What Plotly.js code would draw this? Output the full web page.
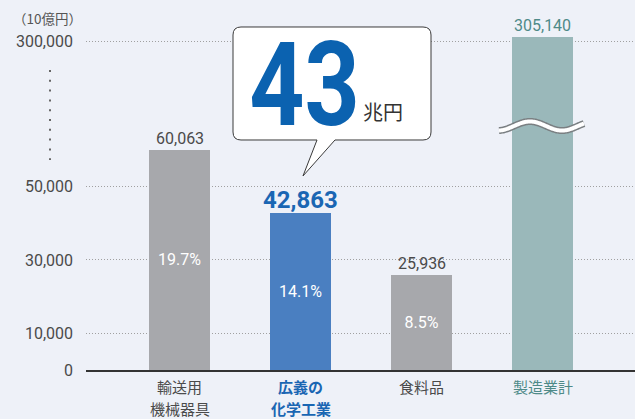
<!DOCTYPE html>
<html><head><meta charset="utf-8">
<script src="https://cdn.plot.ly/plotly-3.0.1.min.js"></script>
<style>html,body{margin:0;padding:0;background:#eef1f8;}#chart{width:635px;height:419px;}</style>
</head><body><div id="chart"></div>
<script>
// ---- data ----
const categories = ['輸送用機械器具', '広義の化学工業', '食料品', '製造業計'];
const labelLine1 = ['輸送用', '広義の', '食料品', '製造業計'];
const labelLine2 = ['機械器具', '化学工業', '', ''];
const values = [60063, 42863, 25936, 305140];
const valueLabels = ['60,063', '42,863', '25,936', '305,140'];
const shares = ['19.7%', '14.1%', '8.5%', ''];
const yTickValues = [0, 10000, 30000, 50000, 300000];
const yTickLabels = ['0', '10,000', '30,000', '50,000', '300,000'];
const unitLabel = '（10億円）';
const calloutNumber = '43';
const calloutUnit = '兆円';

// ---- broken axis mapping ----
function brk(v) { return v <= 100000 ? v : 89530 + (v - 300000) * 0.265; }

const barColors = ['#a7a8ac', '#4a7fc1', '#a7a8ac', '#9ab8ba'];
const labelColors = ['#4a4a4a', '#1a66b3', '#4a4a4a', '#4e8a88'];
const catColors = ['#4a4a4a', '#1a66b3', '#4a4a4a', '#4e8a88'];

// plot area geometry (pixels) for decorations
const L = 86, T = 10, W = 549, H = 360;
const px = x => (x - L) / W;
const py = y => (T + H - y) / H;

function wavePath() {
  let d = '';
  for (let x = 499; x <= 584; x += 1) {
    const y = 126 - 4.5 * Math.cos(2 * Math.PI * (x - 530) / 64);
    d += (d ? ' L ' : 'M ') + px(x).toFixed(5) + ',' + py(y).toFixed(5);
  }
  return d;
}
function calloutPath() {
  const x0 = 233, x1 = 431, y0 = 27, y1 = 140, r = 8;
  const P = (x, y) => px(x).toFixed(5) + ',' + py(y).toFixed(5);
  return 'M ' + P(x0 + r, y0) + ' L ' + P(x1 - r, y0) + ' Q ' + P(x1, y0) + ' ' + P(x1, y0 + r) +
    ' L ' + P(x1, y1 - r) + ' Q ' + P(x1, y1) + ' ' + P(x1 - r, y1) +
    ' L ' + P(335, y1) + ' L ' + P(303, 176) + ' L ' + P(317, y1) +
    ' L ' + P(x0 + r, y1) + ' Q ' + P(x0, y1) + ' ' + P(x0, y1 - r) +
    ' L ' + P(x0, y0 + r) + ' Q ' + P(x0, y0) + ' ' + P(x0 + r, y0) + ' Z';
}

const trace = {
  type: 'bar',
  x: categories,
  y: values.map(brk),
  width: 0.504,
  marker: { color: barColors, line: { width: 0 } },
  text: shares,
  textposition: 'inside',
  insidetextanchor: 'middle',
  textangle: 0,
  textfont: { family: 'Roboto, sans-serif', size: 16, color: '#ffffff' },
  hoverinfo: 'none',
  cliponaxis: false
};

const annotations = values.map((v, i) => ({
  x: categories[i], y: brk(v), xref: 'x', yref: 'y',
  text: i === 1 ? '<b>' + valueLabels[i] + '</b>' : valueLabels[i],
  showarrow: false, yanchor: 'bottom', yshift: i === 1 ? -3 : 0,
  font: { family: 'Roboto, sans-serif', size: i === 1 ? 24 : 16, color: labelColors[i] }
}));
categories.forEach((c, i) => {
  [labelLine1[i], labelLine2[i]].forEach((txt, j) => {
    if (!txt) return;
    annotations.push({
      x: c, xref: 'x', y: py(j === 0 ? 386 : 408), yref: 'paper', yanchor: 'middle',
      text: i === 1 ? '<b>' + txt + '</b>' : txt, showarrow: false,
      font: { family: 'Noto Sans CJK JP, sans-serif', size: 15, color: catColors[i] }
    });
  });
});
annotations.push({
  x: px(11), y: py(18), xref: 'paper', yref: 'paper', xanchor: 'left', yanchor: 'middle',
  text: unitLabel, showarrow: false,
  font: { family: 'Noto Sans CJK JP, sans-serif', size: 13.5, color: '#555555' }
});
annotations.push({
  x: px(304), y: py(85), xref: 'paper', yref: 'paper', xanchor: 'center', yanchor: 'middle',
  text: '<b>' + calloutNumber + '</b>', showarrow: false,
  font: { family: 'Roboto, sans-serif', size: 116, color: '#0b62b0' }
});
annotations.push({
  x: px(383), y: py(111), xref: 'paper', yref: 'paper', xanchor: 'center', yanchor: 'middle',
  text: calloutUnit, showarrow: false,
  font: { family: 'Noto Sans CJK JP, sans-serif', size: 20, color: '#333333' }
});
const bigIndex = annotations.length - 2;

const shapes = [
  { type: 'path', xref: 'paper', yref: 'paper', path: calloutPath(), fillcolor: '#ffffff',
    line: { color: '#3a3a3a', width: 1 }, layer: 'above' },
  { type: 'path', xref: 'paper', yref: 'paper', path: wavePath(), line: { color: '#7a7f82', width: 7 }, layer: 'above' },
  { type: 'path', xref: 'paper', yref: 'paper', path: wavePath(), line: { color: '#ffffff', width: 4 }, layer: 'above' },
  { type: 'line', xref: 'paper', yref: 'paper', x0: px(50), x1: px(50), y0: py(70), y1: py(160),
    line: { color: '#666666', width: 2, dash: '2px,7.8px' } }
];

const layout = {
  width: 635, height: 419,
  margin: { l: L, r: 635 - L - W, t: T, b: 419 - T - H, pad: 0 },
  paper_bgcolor: '#eef1f8', plot_bgcolor: '#eef1f8',
  showlegend: false,
  xaxis: {
    type: 'category', range: [-0.773, 3.764],
    showticklabels: false,
    showgrid: false, zeroline: false, showline: true, linecolor: '#333333', linewidth: 2,
    ticks: '', fixedrange: true
  },
  yaxis: {
    range: [0, 360 / 3.667 * 1000],
    tickvals: yTickValues.map(brk), ticktext: yTickLabels,
    tickfont: { family: 'Roboto, sans-serif', size: 16, color: '#4a4a4a' },
    showgrid: true, gridcolor: '#a0a0a0', gridwidth: 1, griddash: '1px,2px',
    zeroline: false, showline: false, ticks: '', ticklabelstandoff: 12, fixedrange: true
  },
  annotations: annotations,
  shapes: shapes,
  bargap: 0
};

Plotly.newPlot('chart', [trace], layout, { staticPlot: true, displayModeBar: false }).then(gd => {
  // narrow the big callout number horizontally (condensed look)
  const ann = gd.querySelectorAll('.annotation')[bigIndex];
  if (ann) {
    const t = ann.querySelector('text');
    if (t) {
      t.style.transformBox = 'fill-box';
      t.style.transformOrigin = 'center';
      t.style.transform = 'scaleX(0.83)';
    }
  }
});
</script></body></html>
